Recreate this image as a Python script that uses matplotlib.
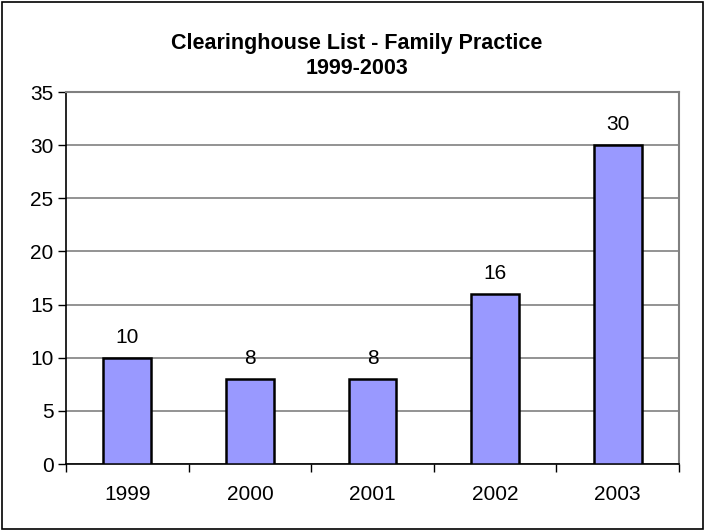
import matplotlib.pyplot as plt
from matplotlib.patches import Rectangle

# Data
years = ["1999", "2000", "2001", "2002", "2003"]
counts = [10, 8, 8, 16, 30]

plt.rcParams['font.family'] = ['Liberation Sans', 'DejaVu Sans']

fig = plt.figure(figsize=(7.05, 5.31), dpi=100)
ax = fig.add_axes([66 / 705, 67 / 531, 613 / 705, 372 / 531])

x = list(range(len(years)))
ax.bar(x, counts, width=0.39, color="#9999FF", edgecolor="black", linewidth=1.8, zorder=3)

# Value labels above bars
for i, v in enumerate(counts):
    ax.annotate(str(v), (i, v), xytext=(0, 8), textcoords="offset points",
                ha="center", va="bottom", fontsize=15)

ax.set_xlim(-0.5, len(years) - 0.5)
ax.set_ylim(0, 35)
ax.set_yticks(range(0, 36, 5))
ax.yaxis.grid(True, color="#808080", linewidth=1.2, zorder=0)
ax.set_axisbelow(True)

# Category ticks at boundaries, labels centred
ax.set_xticks([i - 0.5 for i in range(len(years) + 1)])
ax.set_xticklabels([])
ax.set_xticks(x, minor=True)
ax.set_xticklabels(years, minor=True, fontsize=15)
ax.tick_params(axis="x", which="major", direction="out", length=6, width=1)
ax.tick_params(axis="x", which="minor", length=0, pad=15)
ax.tick_params(axis="y", direction="out", length=6, width=1, labelsize=15, pad=3)

for s in ["top", "right"]:
    ax.spines[s].set_color("#808080")
    ax.spines[s].set_linewidth(1.5)
for s in ["left", "bottom"]:
    ax.spines[s].set_color("black")
    ax.spines[s].set_linewidth(1.2)

fig.text(357 / 705, 1 - 56 / 531, "Clearinghouse List - Family Practice\n1999-2003",
         ha="center", va="center", fontsize=15.5, fontweight="bold", linespacing=1.3)

# Outer border
fig.patches.append(Rectangle((0.003, 0.004), 0.994, 0.992, transform=fig.transFigure,
                             fill=False, edgecolor="black", linewidth=1.2))

plt.savefig("out.png", dpi=100)
